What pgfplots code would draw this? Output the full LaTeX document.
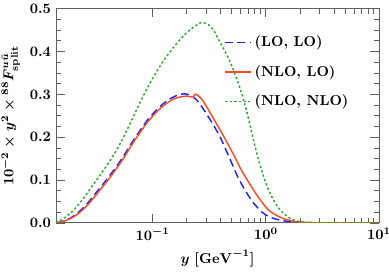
\documentclass[border=0pt]{standalone}
\usepackage{pgfplots}
\pgfplotsset{compat=1.18}
\definecolor{cblue}{RGB}{25,35,250}
\definecolor{cred}{RGB}{255,75,30}
\definecolor{cgreen}{RGB}{40,170,40}
\definecolor{axgray}{RGB}{95,95,95}
\begin{document}
\begin{tikzpicture}
\path[use as bounding box] (-38.9pt,-38pt) rectangle (231.2pt,154.8pt);
\begin{axis}[
  at={(0,0)}, anchor=south west,
  scale only axis, width=224.3pt, height=148.8pt,
  xmode=log, xmin=0.014, xmax=10, ymin=0, ymax=0.5,
  xtick={0.1,1,10},
  ytick={0,0.1,0.2,0.3,0.4,0.5}, minor y tick num=3,
  yticklabel style={/pgf/number format/fixed, /pgf/number format/fixed zerofill, /pgf/number format/precision=1},
  tick label style={font=\boldmath},
  major tick length=6pt, minor tick length=3.5pt,
  axis line style={axgray, line width=0.7pt},
  every tick/.style={axgray, line width=0.6pt},
  xlabel={$y\ [\mathrm{GeV}^{-1}]$},
  ylabel={$10^{-2}\times y^2\times {}^{88}F^{u\bar u}_{\mathrm{split}}$},
  label style={font=\boldmath},
  legend style={draw=none, fill=none, at={(rel axis cs:0.507,0.90)}, anchor=north west, font=\bfseries, row sep=7.4pt},
  legend cell align=left,
  legend image code/.code={\draw[#1] (0pt,0pt) -- (18pt,0pt);},
]
\addplot[cblue, line width=1pt, dash pattern=on 5.5pt off 3pt, smooth] coordinates {
(0.014,0) (0.016,0.004) (0.018,0.009) (0.020,0.016) (0.023,0.029) (0.026,0.043)
(0.030,0.063) (0.035,0.085) (0.040,0.104) (0.047,0.129) (0.055,0.155) (0.065,0.186)
(0.077,0.215) (0.090,0.240) (0.105,0.260) (0.125,0.279) (0.150,0.293) (0.175,0.300)
(0.195,0.301) (0.215,0.298) (0.24,0.289) (0.27,0.272) (0.32,0.242) (0.39,0.203)
(0.48,0.150) (0.55,0.114) (0.63,0.084) (0.77,0.048) (0.98,0.020) (1.3,0.007)
(1.7,0.003) (2.4,0.0008) (3.5,0) (10,0)};
\addlegendentry{(LO, LO)}
\addplot[cred, line width=1pt, smooth] coordinates {
(0.014,0) (0.016,0.003) (0.018,0.008) (0.020,0.014) (0.023,0.026) (0.026,0.039)
(0.030,0.058) (0.035,0.080) (0.040,0.099) (0.047,0.124) (0.055,0.150) (0.065,0.181)
(0.077,0.210) (0.090,0.235) (0.105,0.255) (0.125,0.274) (0.150,0.288) (0.175,0.294)
(0.200,0.296) (0.220,0.294) (0.229,0.2925) (0.235,0.300) (0.250,0.298) (0.28,0.284)
(0.34,0.246) (0.42,0.204) (0.51,0.163) (0.60,0.126) (0.72,0.091) (0.89,0.054)
(1.08,0.028) (1.4,0.011) (1.85,0.003) (2.5,0.0006) (3.5,0) (10,0)};
\addlegendentry{(NLO, LO)}
\addplot[cgreen, line width=1pt, dash pattern=on 1.6pt off 1.6pt, smooth] coordinates {
(0.014,0) (0.016,0.009) (0.018,0.019) (0.020,0.030) (0.023,0.048) (0.026,0.067)
(0.030,0.090) (0.035,0.115) (0.040,0.137) (0.047,0.166) (0.055,0.199) (0.065,0.239)
(0.077,0.280) (0.090,0.316) (0.105,0.347) (0.125,0.379) (0.150,0.407) (0.175,0.428)
(0.20,0.444) (0.23,0.457) (0.265,0.467) (0.30,0.465) (0.34,0.452) (0.40,0.418)
(0.46,0.388) (0.52,0.355) (0.60,0.309) (0.68,0.258) (0.76,0.204) (0.86,0.148)
(0.97,0.103) (1.08,0.071) (1.2,0.048) (1.33,0.031) (1.5,0.018) (1.65,0.010)
(2.0,0.003) (2.7,0.0005) (4,0) (10,0)};
\addlegendentry{(NLO, NLO)}
\end{axis}
\end{tikzpicture}
\end{document}
